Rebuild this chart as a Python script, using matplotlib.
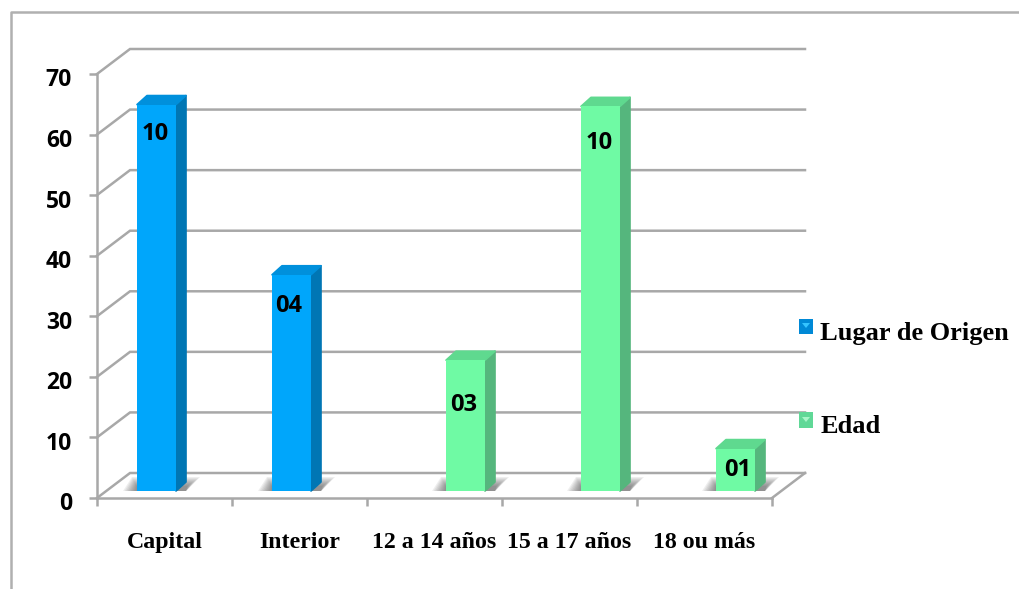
import numpy as np
import matplotlib
matplotlib.use('Agg')
import matplotlib.pyplot as plt
from matplotlib.patches import Patch, Polygon
from matplotlib.lines import Line2D
from matplotlib.transforms import ScaledTranslation

categories = ['Capital', 'Interior', '12 a 14 años', '15 a 17 años', '18 ou más']
lugar_values = [63.8, 35.7, np.nan, np.nan, np.nan]
edad_values = [np.nan, np.nan, 21.6, 63.5, 7.0]
lugar_labels = ['10', '04', '', '', '']
edad_labels = ['', '', '03', '10', '01']
y_ticks = [0, 10, 20, 30, 40, 50, 60, 70]

W, H = 1020, 589
LINE = '#a8a8a8'

# pixels of the reference -> units of the axes
px_x = 1 / 135
px_y = 70 / 424

fig = plt.figure(figsize=(W / 100, H / 100), dpi=100)
ax = fig.add_axes([97 / W, 1 - 498 / H, 675 / W, 424 / H])
ax.set_xlim(-0.5, 4.5)
ax.set_ylim(0, 70)

# wall and floor of the fake 3d box
wall_dx = 33 * px_x
wall_dy = 25 * px_y
for y in y_ticks:
    ax.plot([-0.5, -0.5 + wall_dx, 4.5 + wall_dx], [y, y + wall_dy, y + wall_dy],
            color=LINE, lw=1.8, clip_on=False, zorder=1, solid_joinstyle='miter')
ax.plot([4.5, 4.5 + wall_dx], [0, wall_dy], color=LINE, lw=1.8, clip_on=False, zorder=1)


def draw_series(values, labels, offset, front, side, top, drops, nudges):
    width = 39 * px_x
    depth_x = 10 * px_x
    depth_y = 9 * px_y
    base = 7 * px_y
    for i, v in enumerate(values):
        if np.isnan(v):
            continue
        left = i + offset - width / 2
        right = left + width
        # soft shadow on the floor
        for grow in np.linspace(1, 0.1, 9):
            top_y = base + (4 + grow * 10) * px_y
            ax.add_patch(Polygon([(left - 14 * grow * px_x, base), (right + 10 * px_x, base),
                                  (right + (10 + 14 * grow) * px_x, top_y), (left - 5 * grow * px_x, top_y)],
                                 fc='#444444', ec='none', alpha=0.085, zorder=2, clip_on=False))
        ax.bar(i + offset, v, width=width, bottom=base, color=front, zorder=4)
        ax.fill([right, right + depth_x, right + depth_x, right],
                [base, base + depth_y, base + v + depth_y, base + v],
                fc=side, ec=side, lw=1.2, joinstyle='round', zorder=3)
        ax.fill([left, left + depth_x, right + depth_x, right],
                [base + v, base + v + depth_y, base + v + depth_y, base + v],
                fc=top, ec=top, lw=1.2, joinstyle='round', zorder=3)
        ax.text(i + offset + nudges[i] * px_x, base + v - drops[i] * px_y, labels[i], ha='center', va='center',
                family='Open Sans', fontweight='bold', fontsize=17, color='black', zorder=5)


draw_series(lugar_values, lugar_labels, -8 * px_x, '#00a6fb', '#0076b4', '#0090dc',
            [29, 31, 0, 0, 0], [-1, -3, 0, 0, 0])
draw_series(edad_values, edad_labels, 31 * px_x, '#6ffaa4', '#55b67d', '#5fd98f',
            [0, 0, 45, 37, 21], [0, 0, -2, -1, 2])

ax.set_xticks(np.arange(-0.5, 5, 1))
ax.set_xticklabels([])
ax.set_xticks(np.arange(5), labels=categories, minor=True)
ax.set_yticks(y_ticks)
ax.tick_params(axis='x', which='major', length=6, width=1.8, color=LINE)
ax.tick_params(axis='x', which='minor', length=0, pad=24.5)
ax.tick_params(axis='y', length=6, width=1.8, color=LINE, pad=12)
for lab in ax.get_xticklabels(minor=True):
    lab.set_family('Liberation Serif')
    lab.set_fontweight('bold')
    lab.set_fontsize(17.2)
# the numbers sit a little under their ticks in the original
shift_down = ScaledTranslation(0, -3.5 / 100, fig.dpi_scale_trans)
for lab in ax.get_yticklabels():
    lab.set_family('Open Sans')
    lab.set_fontweight('bold')
    lab.set_fontsize(16.5)
    lab.set_transform(lab.get_transform() + shift_down)

for name in ['top', 'right']:
    ax.spines[name].set_visible(False)
for name in ['left', 'bottom']:
    ax.spines[name].set_color(LINE)
    ax.spines[name].set_linewidth(1.8)
ax.patch.set_visible(False)

handles = [Patch(fc='#0089d6', ec='none', label='Lugar de Origen'),
           Patch(fc='#60d897', ec='none', label='Edad')]
leg = fig.legend(handles=handles, loc='upper left', bbox_to_anchor=(799 / W, 1 - 322 / H), frameon=False,
                 prop={'family': 'Liberation Serif', 'weight': 'bold', 'size': 19},
                 handlelength=0.54, handleheight=0.54, handletextpad=0.27, labelspacing=2.66,
                 borderpad=0, borderaxespad=0)
for h in leg.legend_handles:
    h.set_y(h.get_y() + 3)

# little light triangles inside the legend squares
for top_px, color in [(319, '#35c4ff'), (413, '#a9f5c9')]:
    fig.add_artist(Polygon([(802 / W, 1 - (top_px + 4) / H), (810 / W, 1 - (top_px + 4) / H),
                            (806 / W, 1 - (top_px + 9) / H)], fc=color, ec='none',
                           transform=fig.transFigure, zorder=10))

# outer frame of the picture
fig.add_artist(Line2D([11 / W, 11 / W, 1], [0, 1 - 12 / H, 1 - 12 / H], color='#b0b0b0', lw=1.8))

plt.savefig('out.png', dpi=100)
